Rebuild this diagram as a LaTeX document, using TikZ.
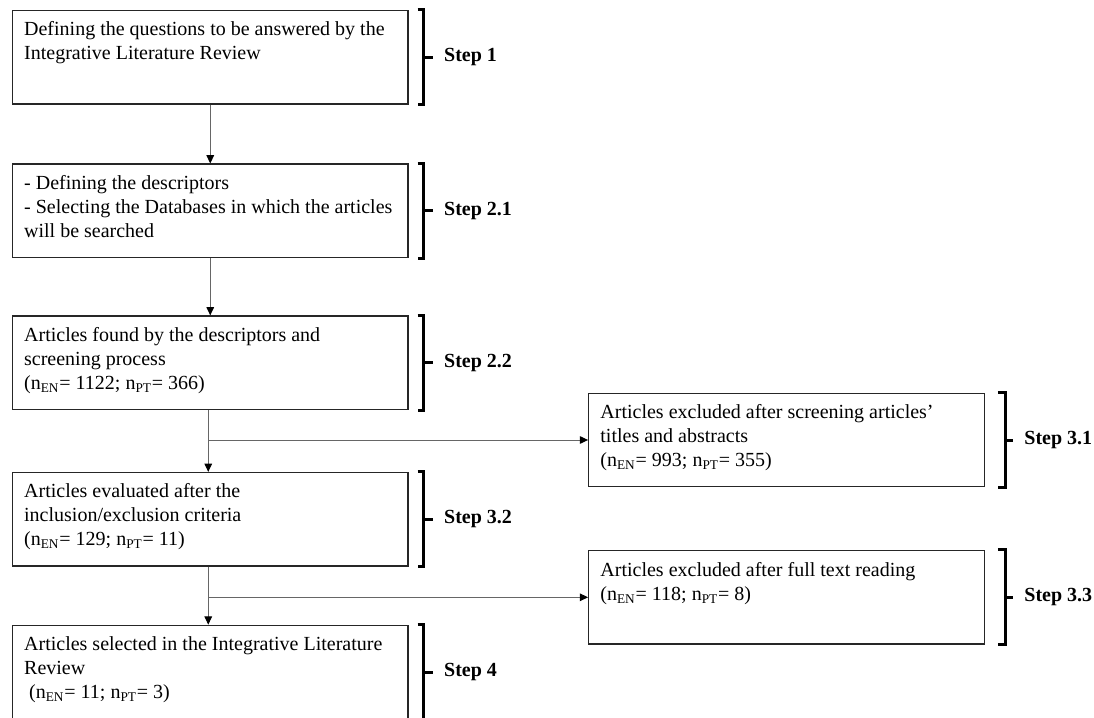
\documentclass[tikz,border=0pt]{standalone}
\usepackage{fontspec}
\setmainfont{Liberation Serif}
\usetikzlibrary{arrows.meta,positioning,calc}

\begin{document}
\begin{tikzpicture}[x=0.6pt, y=-0.6pt,
    stagebox/.style={draw=black!85, line width=0.8pt, inner xsep=7pt, inner ysep=6.8pt,
        font=\fontsize{12}{14.4}\selectfont,
        execute at begin node={\begin{minipage}[t][42.4pt][t]{223.3pt}\raggedright},
        execute at end node={\end{minipage}}},
    arrow/.style={-{Triangle[length=5pt,width=4.6pt,color=black]}, draw=black!60, line width=0.6pt},
    bracket/.style={line width=1.8pt},
    steplabel/.style={anchor=west, inner xsep=6pt, font=\bfseries\fontsize{12}{14.4}\selectfont}
]
    \useasboundingbox (0,0) rectangle (1094,718);

    % Main column
    \node[stagebox] (b1) at (210.25,57.2) {Defining the questions to be answered by the\\Integrative Literature Review};
    \node[stagebox] (b2) at (210.25,210.8) {- Defining the descriptors\\- Selecting the Databases in which the articles\\will be searched};
    \node[stagebox] (b3) at (210.25,362.7) {Articles found by the descriptors and\\screening process\\(n\textsubscript{EN}= 1122; n\textsubscript{PT}= 366)};
    \node[stagebox] (b4) at (210.25,519.2) {Articles evaluated after the\\inclusion/exclusion criteria\\(n\textsubscript{EN}= 129; n\textsubscript{PT}= 11)};
    \node[stagebox] (b5) at (210.25,672) {Articles selected in the Integrative Literature\\Review\\\hspace*{0.25em}(n\textsubscript{EN}= 11; n\textsubscript{PT}= 3)};

    % Excluded articles
    \node[stagebox] (b31) at (786.5,440) {Articles excluded after screening articles'\\titles and abstracts\\(n\textsubscript{EN}= 993; n\textsubscript{PT}= 355)};
    \node[stagebox] (b33) at (786.5,597.3) {Articles excluded after full text reading\\(n\textsubscript{EN}= 118; n\textsubscript{PT}= 8)};

    % Arrows
    \draw[arrow] (b1) -- (b2);
    \draw[arrow] (b2) -- (b3);
    \coordinate (j1) at ([xshift=-1.2pt]b3.south);
    \coordinate (j2) at ([xshift=-1.2pt]b4.south);
    \draw[arrow] (j1) -- (j1 |- b4.north);
    \draw[arrow] (j1 |- b31.west) -- (b31.west);
    \draw[arrow] (j2) -- (j2 |- b5.north);
    \draw[arrow] (j2 |- b33.west) -- (b33.west);

    % Brackets and step labels
    \draw[bracket] ([xshift=5.4pt]b1.north east) -- ([xshift=9pt]b1.north east) -- ([xshift=9pt]b1.south east) -- ([xshift=5.4pt]b1.south east);
    \draw[bracket] ([xshift=9pt]b1.east) -- ([xshift=14.4pt]b1.east) node[steplabel] (l1) {Step 1};
    \draw[bracket] ([xshift=5.4pt]b2.north east) -- ([xshift=9pt]b2.north east) -- ([xshift=9pt]b2.south east) -- ([xshift=5.4pt]b2.south east);
    \draw[bracket] ([xshift=9pt]b2.east) -- ([xshift=14.4pt]b2.east) node[steplabel] (l21) {Step 2.1};
    \draw[bracket] ([xshift=5.4pt]b3.north east) -- ([xshift=9pt]b3.north east) -- ([xshift=9pt]b3.south east) -- ([xshift=5.4pt]b3.south east);
    \draw[bracket] ([xshift=9pt]b3.east) -- ([xshift=14.4pt]b3.east) node[steplabel] (l22) {Step 2.2};
    \draw[bracket] ([xshift=5.4pt]b4.north east) -- ([xshift=9pt]b4.north east) -- ([xshift=9pt]b4.south east) -- ([xshift=5.4pt]b4.south east);
    \draw[bracket] ([xshift=9pt]b4.east) -- ([xshift=14.4pt]b4.east) node[steplabel] (l32) {Step 3.2};
    \draw[bracket] ([xshift=5.4pt]b5.north east) -- ([xshift=9pt]b5.north east) -- ([xshift=9pt]b5.south east) -- ([xshift=5.4pt]b5.south east);
    \draw[bracket] ([xshift=9pt]b5.east) -- ([xshift=14.4pt]b5.east) node[steplabel] (l4) {Step 4};
    \draw[bracket] ([xshift=7.8pt]b31.north east) -- ([xshift=12.6pt]b31.north east) -- ([xshift=12.6pt]b31.south east) -- ([xshift=7.8pt]b31.south east);
    \draw[bracket] ([xshift=12.6pt]b31.east) -- ([xshift=16.8pt]b31.east) node[steplabel] (l31) {Step 3.1};
    \draw[bracket] ([xshift=7.8pt]b33.north east) -- ([xshift=12.6pt]b33.north east) -- ([xshift=12.6pt]b33.south east) -- ([xshift=7.8pt]b33.south east);
    \draw[bracket] ([xshift=12.6pt]b33.east) -- ([xshift=16.8pt]b33.east) node[steplabel] (l33) {Step 3.3};
\end{tikzpicture}
\end{document}
